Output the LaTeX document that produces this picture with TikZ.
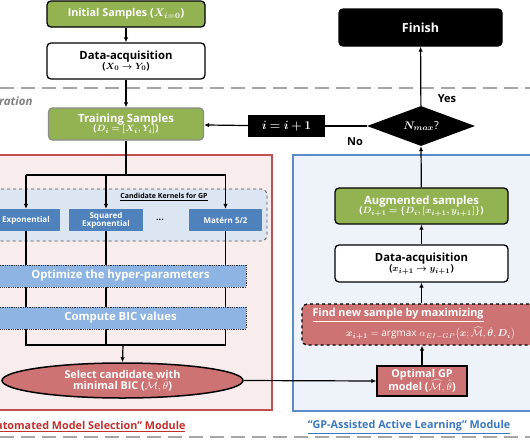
\documentclass[tikz,border=0pt]{standalone}
\usepackage{amsmath,amssymb,bm}
\usepackage{fontspec}
\setmainfont{Open Sans}
\usetikzlibrary{shapes.geometric,arrows.meta,positioning,calc}
\definecolor{grn}{HTML}{93B353}
\definecolor{redfill}{HTML}{F9ECEC}
\definecolor{redline}{HTML}{C0504D}
\definecolor{bluefill}{HTML}{EEF3FA}
\definecolor{blueline}{HTML}{5B8BC8}
\definecolor{kfill}{HTML}{DCE6F2}
\definecolor{kbox}{HTML}{4F81BD}
\definecolor{barfill}{HTML}{8DB4E2}
\definecolor{rosefill}{HTML}{CD7373}
\definecolor{dashgray}{HTML}{A6A6A6}
\definecolor{lblred}{HTML}{C0302D}
\definecolor{lblblue}{HTML}{3B78C0}
\pgfdeclarelayer{bg}
\pgfdeclarelayer{lines}
\pgfsetlayers{bg,lines,main}
\newcommand{\mathline}[1]{{\fontsize{9.5}{10}\selectfont #1}}
\tikzset{
  flowbox/.style={draw=black, line width=1.3pt, rounded corners=4pt, inner sep=0pt, align=center, font=\bfseries\fontsize{11.3}{12}\selectfont},
  greenbox/.style={flowbox, fill=grn, text=white},
  whitebox/.style={flowbox, fill=white},
  blackbox/.style={flowbox, fill=black, text=white},
  kernel/.style={fill=kbox, text=white, inner sep=0pt, align=center, font=\bfseries\fontsize{8}{9}\selectfont},
  bar/.style={draw=black!80, densely dotted, line width=0.8pt, fill=barfill, text=white, inner sep=0pt, font=\bfseries\fontsize{11.3}{12}\selectfont},
  conn/.style={line width=1.2pt, draw=black},
  arr/.style={conn, -{Latex[length=5pt,width=4.5pt]}},
  sepline/.style={draw=dashgray, line width=2pt, dash pattern=on 14pt off 7pt},
  lbl/.style={font=\bfseries\fontsize{11}{12}\selectfont},
  roselbl/.style={text=white, align=center, font=\bfseries\fontsize{10.8}{12}\selectfont},
}
\begin{document}
\begin{tikzpicture}[x=1pt,y=-1pt]
\useasboundingbox (0,0) rectangle (530,442);
\clip (0,0) rectangle (530,442);
% background regions
\begin{pgfonlayer}{bg}
\fill[white] (0,0) rectangle (530,442);
\draw[draw=redline, line width=1.2pt, fill=redfill] (-5,155) rectangle (272,410);
\draw[draw=blueline, line width=1.2pt, fill=bluefill] (293,155) rectangle (540,411);
\draw[draw=black!70, dashed, line width=0.8pt, fill=kfill, rounded corners=6pt] (-10,189) rectangle (267,241);
\end{pgfonlayer}
% separator lines
\draw[sepline] (0,88) -- (530,88);
\draw[sepline] (0,437) -- (530,437);
\node[anchor=east, text=black!50, font=\bfseries\itshape\fontsize{11.5}{12}\selectfont] (iterlbl) at (36,101) {Iteration};
% top flow
\node[greenbox, minimum width=158pt, minimum height=26pt, font=\bfseries\fontsize{10.8}{12}\selectfont] (init) at (126,14) {Initial Samples ($\boldsymbol{X_{i=0}}$)};
\node[whitebox, minimum width=158pt, minimum height=36pt] (acq0) at (126,61) {Data-acquisition\\[-2pt]\mathline{($\boldsymbol{X_0\rightarrow Y_0}$)}};
\node[greenbox, draw=black!45, minimum width=155pt, minimum height=32pt] (train) at (126,124) {Training Samples\\[-3pt]\mathline{($\boldsymbol{D_i=[X_i,Y_i]}$)}};
\node[fill=black, text=white, minimum width=77pt, minimum height=22pt, inner sep=0pt, font=\fontsize{12.5}{12}\selectfont] (inc) at (286.5,126) {$\boldsymbol{i=i+1}$};
\node[diamond, fill=black, text=white, aspect=2.7, minimum width=108pt, minimum height=40pt, inner sep=0pt, font=\fontsize{11}{12}\selectfont] (dia) at (421,126) {$\boldsymbol{N_{max}}$?};
\node[blackbox, minimum width=163pt, minimum height=37pt, font=\bfseries\fontsize{12.5}{12}\selectfont] (finish) at (420.5,27.5) {Finish};
\draw[arr] (init) -- (acq0);
\draw[arr] (acq0) -- (train);
\draw[arr] (inc) -- (train);
\draw[conn] (dia) -- (inc);
\draw[arr] (dia) -- (finish);
\node[lbl] (yes) at (447,99) {Yes};
\node[lbl] (no) at (355,142) {No};
% kernels
\node[font=\bfseries\fontsize{7}{8}\selectfont] (cklbl) at (164,197) {\underline{Candidate Kernels for GP}};
\node[kernel, minimum width=68pt, minimum height=22pt] (k1) at (26,220) {Exponential};
\node[kernel, minimum width=74pt, minimum height=22pt] (k2) at (106,220) {Squared\\[-1pt]Exponential};
\node[font=\bfseries\fontsize{9}{9}\selectfont] (dots) at (160,220) {...};
\node[kernel, minimum width=73pt, minimum height=22pt] (k3) at (225.5,220) {Matérn 5/2};
\node[bar, minimum width=251pt, minimum height=22pt] (opt) at (120.5,276) {Optimize the hyper-parameters};
\node[bar, minimum width=251pt, minimum height=22pt] (bic) at (120.5,318) {Compute BIC values};
\node[ellipse, draw=black, line width=1.5pt, fill=rosefill, minimum width=241pt, minimum height=35pt, inner sep=0pt, roselbl] (ell) at (122.5,380.5) {Select candidate with\\[-1pt]minimal BIC ($\widehat{\mathcal{M}},\hat{\theta}$)};
\coordinate (split) at (126,175);
\coordinate (join) at (123,345);
\begin{pgfonlayer}{lines}
\draw[conn] (train.south) -- (split);
\draw[conn] (k1.north |- split) -- (k3.north |- split);
\draw[arr] (k1.north |- split) -- (k1.north);
\draw[arr] (k2.north |- split) -- (k2.north);
\draw[arr] (k3.north |- split) -- (k3.north);
\draw[conn] (k1.south) -- (k1.south |- join) -- (k3.south |- join) -- (k3.south);
\draw[conn] (k2.south) -- (k2.south |- join);
\draw[arr] (join) -- (ell.north);
\end{pgfonlayer}
% right module
\node[greenbox, minimum width=173pt, minimum height=36pt] (aug) at (421.5,206) {Augmented samples\\[-3pt]\mathline{($\boldsymbol{D_{i+1}=\{D_i,[x_{i+1},y_{i+1}]\}}$)}};
\node[whitebox, minimum width=173pt, minimum height=37pt] (acq1) at (421.5,263.5) {Data-acquisition\\[-2pt]\mathline{($\boldsymbol{x_{i+1}\rightarrow y_{i+1}}$)}};
\node[draw=black, dashed, line width=1.3pt, rounded corners=5pt, fill=rosefill, minimum width=238pt, minimum height=41pt, inner sep=0pt] (find) at (421,324.5) {};
\node[anchor=west, text=white, font=\bfseries\fontsize{10.8}{12}\selectfont] (findt1) at (309,315) {\underline{Find new sample by maximizing}};
\node[anchor=east, text=white, font=\fontsize{10}{12}\selectfont] (findt2) at (519,333.5) {$\boldsymbol{x_{i+1}} = \mathrm{argmax}\;\alpha_{EI-GP}\big(\boldsymbol{x};\widehat{\mathcal{M}},\hat{\boldsymbol{\theta}},\boldsymbol{D_i}\big)$};
\node[draw=black, line width=1.3pt, fill=rosefill, minimum width=90pt, minimum height=30pt, inner sep=0pt, roselbl] (gp) at (422,381) {Optimal GP\\[-1pt]model ($\widehat{\mathcal{M}},\hat{\theta}$)};
\draw[arr] (aug) -- (dia.south);
\draw[arr] (acq1) -- (aug);
\draw[arr] (acq1.south |- find.north) -- (acq1.south);
\draw[arr] (gp) -- (gp.north |- find.south);
\draw[arr] (ell.east) -- (gp.west);
% module labels
\node[anchor=east, text=lblred, font=\bfseries\fontsize{10.8}{12}\selectfont] (lred) at (189,427) {\underline{“Automated Model Selection” Module}};
\node[text=lblblue, font=\bfseries\fontsize{10.8}{12}\selectfont] (lblue) at (409,427) {\underline{“GP-Assisted Active Learning” Module}};
\end{tikzpicture}
\end{document}
